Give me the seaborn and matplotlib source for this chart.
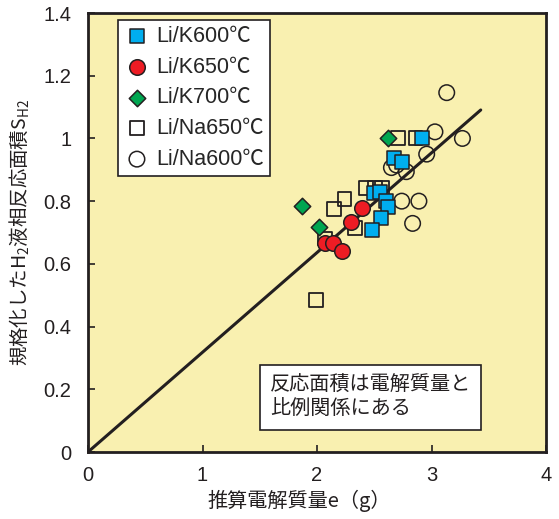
import matplotlib
matplotlib.use("Agg")
import matplotlib.pyplot as plt
import seaborn as sns
import numpy as np

sns.set_theme(style="white")
plt.rcParams['font.family'] = ['Liberation Sans', 'Noto Sans CJK JP', 'DejaVu Sans']
plt.rcParams['mathtext.fontset'] = 'custom'
plt.rcParams['mathtext.rm'] = 'Noto Sans CJK JP'
plt.rcParams['mathtext.it'] = 'Noto Sans CJK JP'
plt.rcParams['mathtext.default'] = 'rm'

# ---- data ----
k600_x = [2.915, 2.675, 2.74, 2.50, 2.55, 2.60, 2.62, 2.56, 2.48]
k600_y = [1.000, 0.937, 0.925, 0.825, 0.830, 0.800, 0.780, 0.746, 0.707]

k650_x = [2.07, 2.14, 2.215, 2.30, 2.39]
k650_y = [0.668, 0.666, 0.640, 0.734, 0.777]

k700_x = [1.866, 2.02, 2.623]
k700_y = [0.785, 0.718, 1.000]

na650_x = [2.71, 2.86, 2.428, 2.507, 2.565, 2.24, 2.148, 2.33, 2.07, 1.99]
na650_y = [1.000, 1.000, 0.841, 0.841, 0.841, 0.806, 0.775, 0.713, 0.681, 0.485]

na600_x = [3.133, 3.27, 3.03, 2.958, 2.65, 2.695, 2.78, 2.74, 2.89, 2.835]
na600_y = [1.146, 1.000, 1.021, 0.950, 0.907, 0.915, 0.894, 0.800, 0.800, 0.729]

fit_x = [0.0, 3.43]
fit_slope = 0.318

labels = ["Li/K600℃", "Li/K650℃", "Li/K700℃", "Li/Na650℃", "Li/Na600℃"]
x_ticks = [0, 1, 2, 3, 4]
y_ticks = [0, 0.2, 0.4, 0.6, 0.8, 1.0, 1.2, 1.4]
y_ticklabels = ["0", "0.2", "0.4", "0.6", "0.8", "1", "1.2", "1.4"]

# ---- figure ----
fig = plt.figure(figsize=(5.59, 5.19), dpi=100)
ax = fig.add_axes([88/559, 1-452/519, (546-88)/559, (452-13)/519])
bg = '#f9f0b0'
ax.set_facecolor(bg)
edge = '#231f20'

ax.plot(fit_x, [v * fit_slope for v in fit_x], color=edge, lw=2.2, zorder=1)

sns.scatterplot(x=na600_x, y=na600_y, marker='o', s=125, facecolor='none',
                edgecolor=edge, linewidth=1.1, label=labels[4], ax=ax, zorder=2)
sns.scatterplot(x=na650_x, y=na650_y, marker='s', s=100, facecolor='none',
                edgecolor=edge, linewidth=1.3, label=labels[3], ax=ax, zorder=2)
sns.scatterplot(x=k600_x, y=k600_y, marker='s', s=100, color='#00aeef',
                edgecolor=edge, linewidth=1.1, label=labels[0], ax=ax, zorder=3)
sns.scatterplot(x=k650_x, y=k650_y, marker='o', s=125, color='#ed1c24',
                edgecolor=edge, linewidth=1.1, label=labels[1], ax=ax, zorder=3)
sns.scatterplot(x=k700_x, y=k700_y, marker='D', s=70, color='#00a651',
                edgecolor=edge, linewidth=1.1, label=labels[2], ax=ax, zorder=3)

ax.set_xlim(0, 4)
ax.set_ylim(0, 1.4)
ax.set_xticks(x_ticks)
ax.set_xticklabels([str(t) for t in x_ticks])
ax.set_yticks(y_ticks)
ax.set_yticklabels(y_ticklabels)
ax.tick_params(direction='in', length=5, width=1.2, colors=edge, labelsize=14.5,
               labelcolor='#231f20', bottom=True, left=True)
ax.tick_params(axis='x', pad=10)
ax.tick_params(axis='y', pad=12)
for sp in ax.spines.values():
    sp.set_color(edge)
    sp.set_linewidth(2)

ax.set_xlabel("推算電解質量e（g）", fontsize=14.5, color='#231f20', labelpad=4,
              family=['Noto Sans CJK JP', 'DejaVu Sans'])
ax.xaxis.set_label_coords(0.461, -0.085)
ax.set_ylabel("規格化したH$_2$液相反応面積S$_{H2}$", fontsize=14, color='#231f20',
              labelpad=8, family=['Noto Sans CJK JP'])

# legend order
handles, labs = ax.get_legend_handles_labels()
order = [labs.index(l) for l in labels]
leg = ax.legend([handles[i] for i in order], [labs[i] for i in order],
                loc='upper left', bbox_to_anchor=((118-88)/458, (452-20)/439),
                borderaxespad=0, frameon=True, fancybox=False,
                prop={'size': 15.5, 'family': ['Liberation Sans', 'Noto Sans CJK JP']},
                labelspacing=0.45, handletextpad=0.3, handlelength=1.2,
                borderpad=0.28, edgecolor=edge, facecolor='white', framealpha=1)
leg.get_frame().set_linewidth(1.2)

ax.text(1.59, 0.174, "反応面積は電解質量と\n比例関係にある", fontsize=14.5,
        color='#231f20', va='center', ha='left', linespacing=1.2,
        family=['Noto Sans CJK JP', 'DejaVu Sans'],
        bbox=dict(boxstyle='square,pad=0.5', facecolor='white', edgecolor=edge, lw=1.2))

fig.savefig("out.png", dpi=100, facecolor='white')
